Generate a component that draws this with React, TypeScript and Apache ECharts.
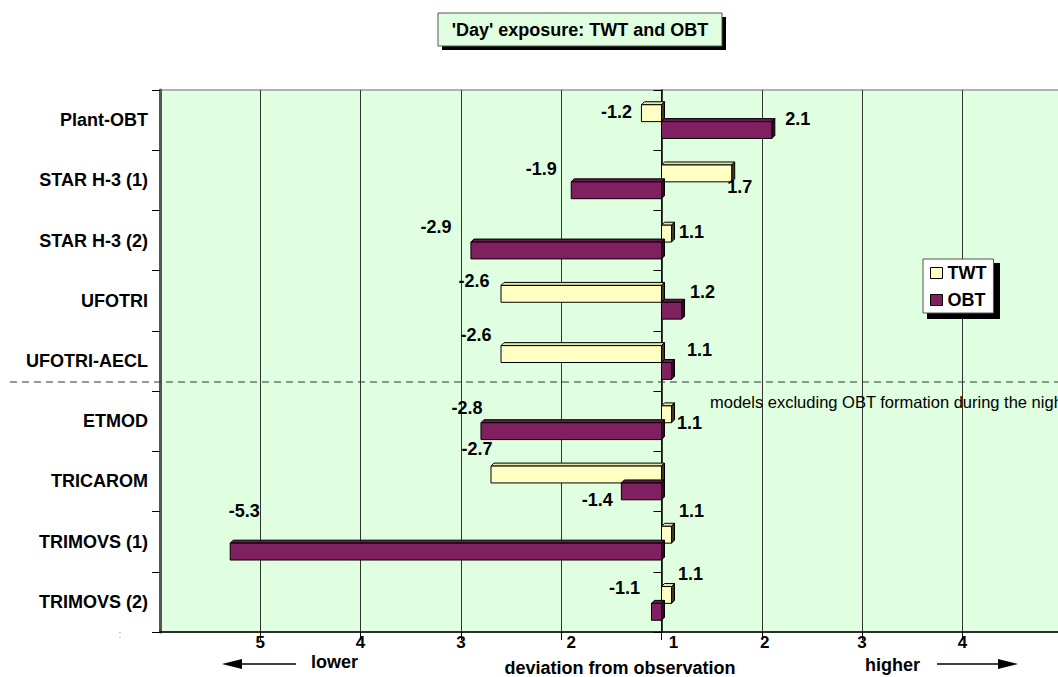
import React, { useEffect, useRef } from "react";
import * as echarts from "echarts";

// ---------- data ----------
const categories = [
  "Plant-OBT",
  "STAR H-3 (1)",
  "STAR H-3 (2)",
  "UFOTRI",
  "UFOTRI-AECL",
  "ETMOD",
  "TRICAROM",
  "TRIMOVS (1)",
  "TRIMOVS (2)",
];
// deviation factors (negative = lower than observation)
const twtValues = [-1.2, 1.7, 1.1, -2.6, -2.6, 1.1, -2.7, 1.1, 1.1];
const obtValues = [2.1, -1.9, -2.9, 1.2, 1.1, -2.8, -1.4, -5.3, -1.1];
const tickValues = [-4, -3, -2, -1, 0, 1, 2, 3];
const tickLabels = ["5", "4", "3", "2", "1", "2", "3", "4"];

// ---------- layout / style (not data) ----------
const twtLabelOffset = [
  [-25, -1], [8, 14], [20, -2], [-27, -13], [-25, -19], [18, 9], [-14, -26], [20, -24], [19, -21],
];
const obtLabelOffset = [
  [26, -11], [-30, -21], [-35, -23], [21, -19], [28, -21], [-14, -23], [-24, 9], [14, -41], [-27, -24],
];
const tickLabelShift = [0, 0, 0, 20, 24, 6, 0, 0]; // extra left padding (px) per tick label
const FONT = '"Liberation Sans", Arial, Helvetica, sans-serif';
const BAR_FRAC = 0.28;
const SHIFT = 1.5;
const DEPTH = 3;
const VIEW_W = 1058;
const CHART_W = 1166; // plot continues beyond the visible page edge
const CHART_H = 677;

// deviation factor -> position on the axis (factor 1 = no deviation = 0)
const toAxis = (v: number) => (v > 0 ? v - 1 : v + 1);

function makeRenderItem(
  upper: boolean,
  raw: number[],
  offsets: number[][],
  colors: { front: string; top: string; side: string }
) {
  return (params: any, api: any) => {
    const v = api.value(0);
    const idx = api.value(1);
    const base = api.coord([0, idx]);
    const end = api.coord([v, idx]);
    const band = api.size([0, 1])[1];
    const h = band * BAR_FRAC;
    const c = base[1];
    const top = upper ? c - h + SHIFT : c + SHIFT;
    const xl = Math.min(base[0], end[0]);
    const xr = Math.max(base[0], end[0]);
    const d = DEPTH;
    const off = offsets[params.dataIndex];
    const label = raw[params.dataIndex].toFixed(1);
    return {
      type: "group",
      children: [
        {
          type: "polygon",
          shape: { points: [[xl, top], [xl + d, top - d], [xr + d, top - d], [xr, top]] },
          style: { fill: colors.top, stroke: "#000", lineWidth: 1 },
        },
        {
          type: "polygon",
          shape: { points: [[xr, top], [xr + d, top - d], [xr + d, top + h - d], [xr, top + h]] },
          style: { fill: colors.side, stroke: "#000", lineWidth: 1 },
        },
        {
          type: "rect",
          shape: { x: xl, y: top, width: xr - xl, height: h },
          style: { fill: colors.front, stroke: "#000", lineWidth: 1 },
        },
        {
          type: "text",
          x: end[0] + off[0],
          y: top + h / 2 + off[1],
          style: {
            text: label,
            font: `bold 18px ${FONT}`,
            fill: "#000",
            align: "center",
            verticalAlign: "middle",
            textAlign: "center",
            textVerticalAlign: "middle",
          },
        },
      ],
    };
  };
}

const TWT_COLORS = { front: "#FFFFC4", top: "#E6E6AA", side: "#3A3A28" };
const OBT_COLORS = { front: "#802060", top: "#661A4D", side: "#2E0B22" };

function txt(x: number, y: number, text: string, font: string, align = "left", extra: any = {}) {
  return {
    type: "text",
    x,
    y,
    z: 5,
    style: {
      text,
      font,
      fill: "#000",
      align,
      verticalAlign: "middle",
      textAlign: align,
      textVerticalAlign: "middle",
      ...extra,
    },
  };
}

export default function App() {
  const ref = useRef<HTMLDivElement>(null);

  useEffect(() => {
    document.body.style.margin = "0";
    document.body.style.overflow = "hidden";
    const chart = echarts.init(ref.current!, null, { renderer: "svg", width: CHART_W, height: CHART_H });

    const twtData = twtValues.map((v, i) => [toAxis(v), i]);
    const obtData = obtValues.map((v, i) => [toAxis(v), i]);

    const tickRich: any = {};
    tickLabelShift.forEach((s, i) => {
      tickRich["t" + i] = {
        fontSize: 17,
        fontWeight: "bold",
        fontFamily: FONT,
        color: "#000",
        padding: [0, 0, 0, s],
      };
    });

    const option: any = {
      animation: false,
      backgroundColor: "#fff",
      grid: {
        left: 160,
        right: 0,
        top: 90,
        bottom: 45,
        show: true,
        backgroundColor: "#E0FFE0",
        borderColor: "#999",
        borderWidth: 1.5,
      },
      xAxis: {
        type: "value",
        min: -5,
        max: 5,
        interval: 1,
        axisLine: { show: true, onZero: false, lineStyle: { color: "#000", width: 1.5 } },
        axisTick: { show: true, length: 8, lineStyle: { color: "#000" } },
        splitLine: { show: true, lineStyle: { color: "#333", width: 1 } },
        axisLabel: {
          showMinLabel: false,
          margin: 2,
          fontSize: 17,
          fontWeight: "bold",
          fontFamily: FONT,
          color: "#000",
          rich: tickRich,
          formatter: (v: number) => {
            const i = tickValues.indexOf(Math.round(v));
            return i >= 0 ? `{t${i}|${tickLabels[i]}}` : "";
          },
        },
      },
      yAxis: [
        {
          type: "category",
          data: categories,
          inverse: true,
          position: "left",
          axisLine: { show: true, onZero: false, lineStyle: { color: "#555", width: 3 } },
          axisTick: { show: true, length: 8, lineStyle: { color: "#000" } },
          axisLabel: {
            margin: 12,
            fontSize: 18,
            fontWeight: "bold",
            fontFamily: FONT,
            color: "#000",
          },
          splitLine: { show: false },
        },
        {
          type: "category",
          data: categories,
          inverse: true,
          position: "left",
          axisLine: { show: true, onZero: true, lineStyle: { color: "#000", width: 1.5 } },
          axisTick: { show: true, length: 8, lineStyle: { color: "#000" } },
          axisLabel: { show: false },
          splitLine: { show: false },
        },
      ],
      legend: {
        orient: "vertical",
        left: 923,
        top: 259,
        padding: [5, 7, 4, 7],
        itemGap: 9,
        itemWidth: 12,
        itemHeight: 11,
        backgroundColor: "#fff",
        borderColor: "#555",
        borderWidth: 1,
        z: 10,
        selectedMode: false,
        textStyle: { fontSize: 18, fontWeight: "bold", fontFamily: FONT, color: "#000" },
        data: [
          { name: "TWT", icon: "rect", itemStyle: { color: TWT_COLORS.front, borderColor: "#000", borderWidth: 1 } },
          { name: "OBT", icon: "rect", itemStyle: { color: OBT_COLORS.front, borderColor: "#000", borderWidth: 1 } },
        ],
      },
      series: [
        {
          name: "TWT",
          type: "custom",
          coordinateSystem: "cartesian2d",
          xAxisIndex: 0,
          yAxisIndex: 0,
          itemStyle: { color: TWT_COLORS.front },
          renderItem: makeRenderItem(true, twtValues, twtLabelOffset, TWT_COLORS),
          data: twtData,
          z: 3,
        },
        {
          name: "OBT",
          type: "custom",
          coordinateSystem: "cartesian2d",
          xAxisIndex: 0,
          yAxisIndex: 0,
          itemStyle: { color: OBT_COLORS.front },
          renderItem: makeRenderItem(false, obtValues, obtLabelOffset, OBT_COLORS),
          data: obtData,
          z: 3,
        },
      ],
      graphic: [
        // title box with shadow
        { type: "rect", z: 1, shape: { x: 442, y: 17, width: 284, height: 33 }, style: { fill: "#000" } },
        {
          type: "rect",
          z: 2,
          shape: { x: 438, y: 13, width: 284, height: 33 },
          style: { fill: "#E0FFE0", stroke: "#555", lineWidth: 1 },
        },
        txt(580, 30, "'Day' exposure: TWT and OBT", `bold 18px ${FONT}`, "center"),
        // legend shadow
        { type: "rect", z: 3, shape: { x: 927, y: 263, width: 73, height: 56 }, style: { fill: "#000" } },
        // separator
        {
          type: "line",
          z: 4,
          shape: { x1: 10, y1: 382, x2: VIEW_W, y2: 382 },
          style: { stroke: "#333", lineWidth: 1, lineDash: [7, 5] },
        },
        txt(710, 402, "models excluding OBT formation during the night", `16.5px ${FONT}`),
        // bottom annotations
        { type: "line", z: 5, shape: { x1: 238, y1: 664, x2: 296, y2: 664 }, style: { stroke: "#000", lineWidth: 1.5 } },
        { type: "polygon", z: 5, shape: { points: [[222, 664], [242, 659], [242, 669]] }, style: { fill: "#000" } },
        txt(311, 662, "lower", `bold 18px ${FONT}`),
        txt(620, 668, "deviation from observation", `bold 18px ${FONT}`, "center"),
        txt(865, 665, "higher", `bold 18px ${FONT}`),
        { type: "line", z: 5, shape: { x1: 937, y1: 664, x2: 1002, y2: 664 }, style: { stroke: "#000", lineWidth: 1.5 } },
        { type: "polygon", z: 5, shape: { points: [[1018, 664], [998, 659], [998, 669]] }, style: { fill: "#000" } },
        txt(120, 634, ":", `10px ${FONT}`, "center", { fill: "#999" }),
      ],
    };

    chart.setOption(option);
    return () => chart.dispose();
  }, []);

  return (
    <div style={{ position: "fixed", left: 0, top: 0, width: VIEW_W, height: CHART_H, overflow: "hidden" }}>
      <div ref={ref} style={{ width: CHART_W, height: CHART_H }} />
    </div>
  );
}
